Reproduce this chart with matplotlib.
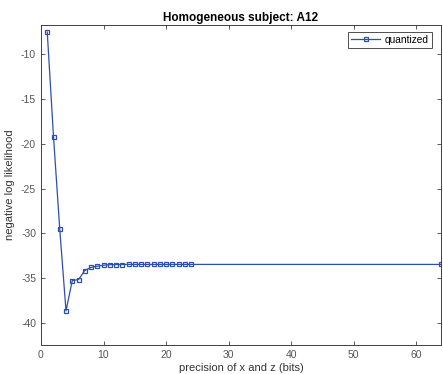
import matplotlib
matplotlib.use("Agg")
import matplotlib.pyplot as plt

bits = list(range(1, 25)) + [64]
nll = [-7.54, -19.19, -29.53, -38.64, -35.27, -35.15, -34.14, -33.80, -33.66, -33.55,
       -33.49, -33.47, -33.47, -33.46, -33.46, -33.46, -33.46, -33.46, -33.46, -33.46,
       -33.46, -33.46, -33.46, -33.46, -33.46]
xticks = [0, 10, 20, 30, 40, 50, 60]
yticks = [-40, -35, -30, -25, -20, -15, -10]

plt.rcParams['font.family'] = ['Liberation Sans', 'DejaVu Sans']
plt.rcParams['axes.unicode_minus'] = False
fig = plt.figure(figsize=(4.43, 3.74), dpi=100)
ax = fig.add_axes([41/443, 1 - 345/374, (441-41)/443, (345-25)/374])
col = '#2f4fb0'
ax.plot(bits, nll, '-', color=col, lw=0.9, marker='s', markersize=3,
        markerfacecolor='none', markeredgecolor=col, markeredgewidth=0.9,
        label='quantized')
ax.set_xlim(0, 64)
ax.set_ylim(-42.45, -6.75)
ax.set_xticks(xticks)
ax.set_yticks(yticks)
gray = '#404040'
ax.tick_params(direction='in', top=True, right=True, length=3, width=0.6,
               labelsize=7.5, colors=gray, labelcolor='#555555')
for s in ax.spines.values():
    s.set_color(gray)
    s.set_linewidth(0.7)
ax.set_xlabel('precision of x and z (bits)', fontsize=8, color='#333333', labelpad=2)
ax.set_ylabel('negative log likelihood', fontsize=8, color='#333333', labelpad=4)
ax.set_title('Homogeneous subject: A12', fontsize=8.5, fontweight='bold', pad=3)
leg = ax.legend(loc='upper right', fontsize=7.3, frameon=True, fancybox=False,
                edgecolor='#222222', handlelength=2.8, borderpad=0.3, numpoints=1,
                handletextpad=0.5, bbox_to_anchor=(0.99, 0.995))
leg.get_frame().set_linewidth(0.7)
fig.savefig('out.png', dpi=100)
